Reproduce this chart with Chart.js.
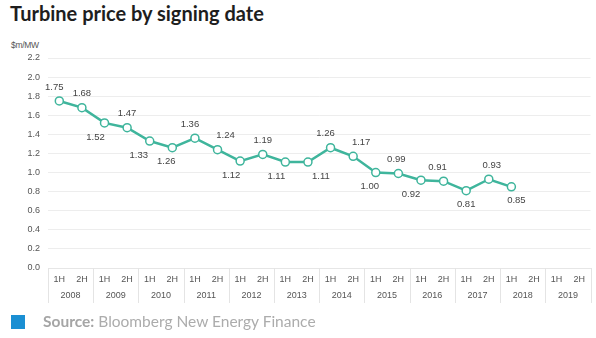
<!DOCTYPE html>
<html>
<head>
<meta charset="utf-8">
<script src="https://cdn.jsdelivr.net/npm/chart.js@4.4.1/dist/chart.umd.min.js"></script>
<style>
  html, body { margin: 0; padding: 0; background: #fff; }
  #wrap { position: relative; width: 596px; height: 338px; overflow: hidden; }
  #title { position: absolute; left: 10px; top: 1px; font-family: Lato, "Open Sans", sans-serif; font-weight: 700; font-size: 20px; letter-spacing: 0px; color: #1e1e1e; white-space: nowrap; }
  #unit { position: absolute; left: 11px; top: 40px; font-family: "Liberation Sans", Arial, sans-serif; font-size: 8.5px; color: #555; letter-spacing: -0.3px; }
  #src { position: absolute; left: 43px; top: 312px; font-family: Lato, "Open Sans", sans-serif; font-size: 15.5px; color: #acacac; white-space: nowrap; }
  #src b { font-weight: 700; color: #a5a5a5; }
  #sq { position: absolute; left: 11px; top: 315px; width: 14px; height: 14px; background: #1a8fd3; }
  #cv { position: absolute; left: 0; top: 0; }
</style>
</head>
<body>
<div id="wrap">
  <div id="title">Turbine price by signing date</div>
  <div id="unit">$m/MW</div>
  <canvas id="cv" width="596" height="338"></canvas>
  <div id="sq"></div>
  <div id="src"><b>Source:</b> Bloomberg New Energy Finance</div>
</div>
<script>
// ---- data ----
const halves = ['1H','2H','1H','2H','1H','2H','1H','2H','1H','2H','1H','2H',
                '1H','2H','1H','2H','1H','2H','1H','2H','1H','2H','1H','2H'];
const years = ['2008','2009','2010','2011','2012','2013','2014','2015','2016','2017','2018','2019'];
const prices = [1.75, 1.68, 1.52, 1.47, 1.33, 1.26, 1.36, 1.24, 1.12, 1.19, 1.11, 1.11,
                1.26, 1.17, 1.00, 0.99, 0.92, 0.91, 0.81, 0.93, 0.85, null, null, null];
const yTicks = [0.0, 0.2, 0.4, 0.6, 0.8, 1.0, 1.2, 1.4, 1.6, 1.8, 2.0, 2.2];

// ---- label placement (style) ----
const labelSide = ['a','a','b','a','b','b','a','a','b','a','b','b',
                   'a','a','b','a','b','a','b','a','b'];
const labelDx = [-5,0,-9,0,-11,-6,-5,8,-9,0,-9,13,-5,8,-6,-2,-10,-6,0,3,5];

const teal = '#3fb59c';

const dataLabels = {
  id: 'dataLabels',
  afterDatasetsDraw(chart) {
    const meta = chart.getDatasetMeta(0);
    const ctx = chart.ctx;
    ctx.save();
    ctx.font = '9.5px "Liberation Sans", Arial, sans-serif';
    ctx.fillStyle = '#444';
    ctx.textAlign = 'center';
    ctx.textBaseline = 'middle';
    prices.forEach((v, i) => {
      if (v === null) return;
      const el = meta.data[i];
      const dy = labelSide[i] === 'a' ? -14 : 14;
      ctx.fillText(v.toFixed(2), el.x + (labelDx[i] || 0), el.y + dy);
    });
    ctx.restore();
  }
};

const yearSeparators = {
  id: 'yearSeparators',
  afterDraw(chart) {
    const xs = chart.scales.x;
    const ys = chart.scales.years;
    const ctx = chart.ctx;
    ctx.save();
    ctx.strokeStyle = '#e4e4e4';
    ctx.lineWidth = 1;
    for (let k = 0; k <= years.length; k++) {
      const x = Math.round(xs.getPixelForValue(2 * k - 0.5)) + 0.5;
      ctx.beginPath();
      ctx.moveTo(x, chart.chartArea.bottom);
      ctx.lineTo(x, ys.bottom);
      ctx.stroke();
    }
    ctx.restore();
  }
};

const tickFont = { family: '"Liberation Sans", Arial, sans-serif', size: 9 };

new Chart(document.getElementById('cv'), {
  type: 'line',
  data: {
    labels: halves,
    datasets: [{
      data: prices,
      borderColor: teal,
      borderWidth: 2.5,
      pointRadius: 4,
      pointBorderWidth: 1.5,
      pointBackgroundColor: '#fff',
      pointBorderColor: teal,
      tension: 0,
      spanGaps: false
    }]
  },
  options: {
    responsive: false,
    animation: false,
    devicePixelRatio: 1,
    layout: { padding: { top: 58, right: 4, left: 0, bottom: 35 } },
    plugins: { legend: { display: false }, tooltip: { enabled: false }, title: { display: false } },
    scales: {
      y: {
        min: 0, max: 2.2,
        afterBuildTicks(scale) { scale.ticks = yTicks.map(v => ({ value: v })); },
        afterFit(scale) { scale.width = 48; },
        ticks: { font: tickFont, color: '#555', padding: 8, callback: v => Number(v).toFixed(1) },
        grid: { color: '#ededed', lineWidth: 1, drawTicks: false },
        border: { display: false }
      },
      x: {
        type: 'category',
        position: 'bottom',
        weight: 0,
        offset: true,
        afterFit(scale) { scale.height = 17; },
        ticks: { font: tickFont, color: '#555', padding: 6, maxRotation: 0, autoSkip: false },
        grid: { display: false, drawTicks: false },
        border: { display: true, color: '#e6e6e6' }
      },
      years: {
        type: 'category',
        position: 'bottom',
        weight: 1,
        labels: years,
        offset: true,
        afterFit(scale) { scale.height = 18; },
        ticks: { font: tickFont, color: '#555', padding: 5, maxRotation: 0, autoSkip: false },
        grid: { display: false, drawTicks: false },
        border: { display: false }
      }
    }
  },
  plugins: [dataLabels, yearSeparators]
});
</script>
</body>
</html>
